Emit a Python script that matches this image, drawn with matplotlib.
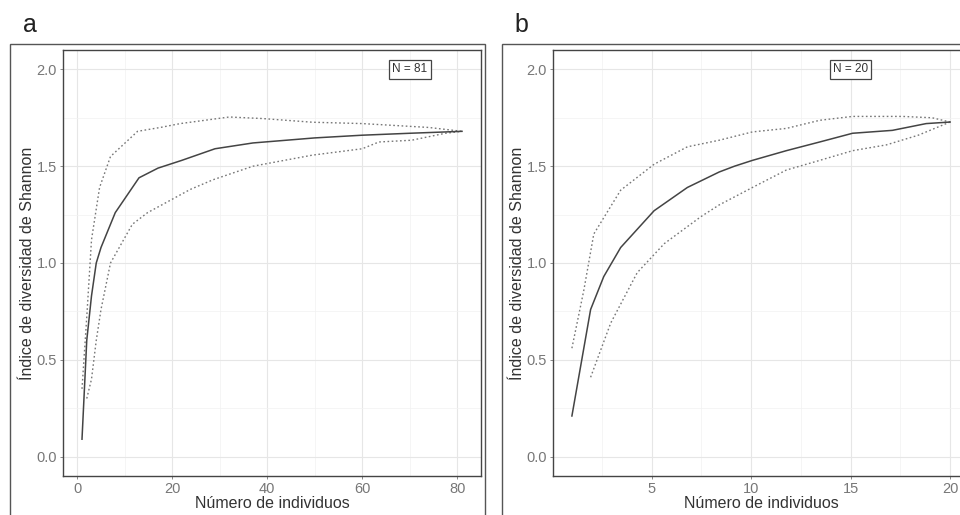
import matplotlib
matplotlib.use("Agg")
import matplotlib.pyplot as plt
from matplotlib.patches import Rectangle
from matplotlib.ticker import MultipleLocator

plt.rcParams['font.family'] = ['Liberation Sans', 'DejaVu Sans']

# panel a: N = 81
a_mean_x = [1, 2, 3, 4, 5, 8, 13, 17, 22, 29, 37, 50, 60, 70, 81]
a_mean_y = [0.09, 0.60, 0.83, 1.00, 1.08, 1.26, 1.44, 1.49, 1.53, 1.59, 1.62, 1.646, 1.66, 1.67, 1.68]
a_up_x = [1, 2, 3, 4.7, 7, 12.7, 17.5, 21.7, 32, 39, 49.5, 60, 67, 74, 81]
a_up_y = [0.35, 0.72, 1.12, 1.39, 1.55, 1.68, 1.70, 1.72, 1.754, 1.746, 1.727, 1.72, 1.71, 1.70, 1.68]
a_lo_x = [2, 3, 4, 5, 7, 11.6, 14.8, 23.8, 28.6, 37, 49.5, 60, 63.5, 70.4, 77.5, 81]
a_lo_y = [0.30, 0.40, 0.60, 0.76, 1.00, 1.20, 1.26, 1.38, 1.43, 1.50, 1.557, 1.59, 1.625, 1.634, 1.67, 1.68]

# panel b: N = 20
b_mean_x = [1, 1.94, 2.6, 3.45, 5.13, 6.8, 8.4, 9.17, 10.07, 11.77, 13.45, 15.1, 17.1, 18.8, 20]
b_mean_y = [0.21, 0.76, 0.93, 1.08, 1.27, 1.39, 1.47, 1.50, 1.53, 1.58, 1.625, 1.67, 1.685, 1.72, 1.728]
b_up_x = [1, 1.6, 2.1, 3.45, 5.13, 6.8, 8.4, 10.07, 11.77, 13.45, 15.1, 17.6, 19.1, 20]
b_up_y = [0.56, 0.86, 1.15, 1.376, 1.51, 1.60, 1.634, 1.677, 1.695, 1.737, 1.757, 1.757, 1.75, 1.728]
b_lo_x = [1.94, 2.95, 4.28, 5.64, 7.49, 8.4, 10.07, 11.77, 13.45, 15.1, 16.8, 18.4, 20]
b_lo_y = [0.41, 0.69, 0.95, 1.10, 1.24, 1.30, 1.39, 1.48, 1.53, 1.58, 1.61, 1.66, 1.728]

fig = plt.figure(figsize=(9.6, 5.15), dpi=100)
W, H = 960, 515

def px_axes(l, t, r, b):
    return fig.add_axes([l / W, (H - b) / H, (r - l) / W, (b - t) / H])

# outer plot boxes
for l, r in [(10, 485), (502, 1000)]:
    fig.patches.append(Rectangle((l / W, -0.1), (r - l) / W, 0.1 + (H - 44) / H,
                                 transform=fig.transFigure, fill=False,
                                 edgecolor='#555555', lw=1.0))

ax_a = px_axes(63, 50, 481, 476)
ax_b = px_axes(553, 50, 969, 476)

panels = [
    (ax_a, a_mean_x, a_mean_y, a_up_x, a_up_y, a_lo_x, a_lo_y, (-3, 85), 20, 10, 'N = 81', 70, 'a', 30),
    (ax_b, b_mean_x, b_mean_y, b_up_x, b_up_y, b_lo_x, b_lo_y, (0.05, 20.95), 5, 2.5, 'N = 20', 15, 'b', 521),
]

for ax, mx, my, ux, uy, lx, ly, xl, maj, mnr, ntxt, nx, tag, tagx in panels:
    ax.set_xlim(*xl)
    ax.set_ylim(-0.1, 2.1)
    ax.xaxis.set_major_locator(MultipleLocator(maj))
    ax.xaxis.set_minor_locator(MultipleLocator(mnr))
    ax.yaxis.set_major_locator(MultipleLocator(0.5))
    ax.yaxis.set_minor_locator(MultipleLocator(0.25))
    ax.yaxis.set_major_formatter(plt.FuncFormatter(lambda v, p: f'{v:.1f}'))
    ax.grid(which='major', color='#e6e6e6', lw=0.8)
    ax.grid(which='minor', color='#f2f2f2', lw=0.5)
    ax.set_axisbelow(True)
    ax.tick_params(which='major', length=2.5, width=0.6, color='#777777',
                   labelcolor='#777777', labelsize=10.5, pad=2)
    ax.tick_params(which='minor', length=0)
    for s in ax.spines.values():
        s.set_color('#444444')
        s.set_linewidth(1.0)

    ax.plot(ux, uy, color='#777777', lw=1.0, ls=(0, (1.2, 1.8)))
    ax.plot(lx, ly, color='#777777', lw=1.0, ls=(0, (1.2, 1.8)))
    ax.plot(mx, my, color='#444444', lw=1.1)

    ax.text(nx, 2.0, ntxt, ha='center', va='center', fontsize=8.5, color='#333333',
            bbox=dict(boxstyle='square,pad=0.28', fc='white', ec='#444444', lw=0.9))

    ax.set_xlabel('Número de individuos', fontsize=11.5, color='#333333', labelpad=0)
    ax.set_ylabel('Índice de diversidad de Shannon', fontsize=11.5, color='#333333', labelpad=1)
    fig.text(tagx / W, (H - 25) / H, tag, fontsize=18, color='#222222',
             ha='center', va='center')

fig.savefig('out.png', dpi=100)
